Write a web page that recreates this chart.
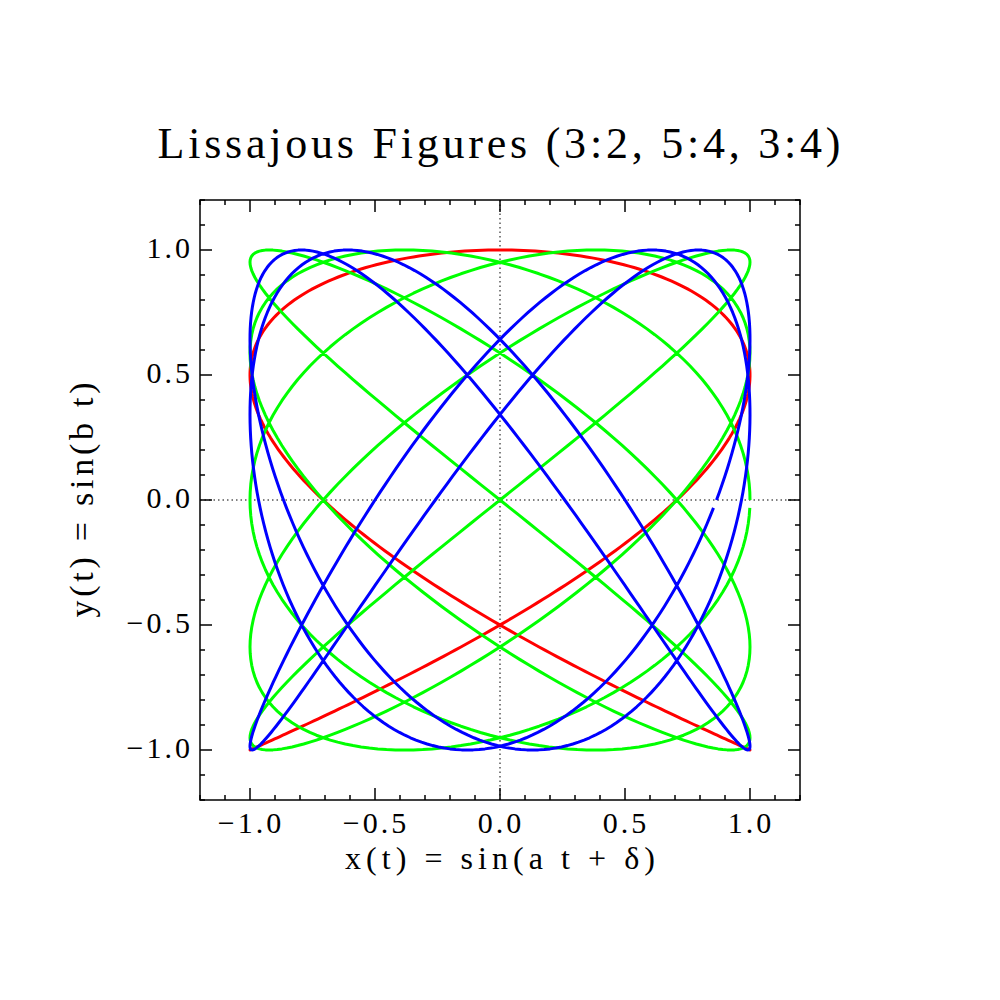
<!DOCTYPE html>
<html>
<head>
<meta charset="utf-8">
<script src="https://cdn.jsdelivr.net/npm/d3@7"></script>
<style>
	body { margin: 0; background: #fff; }
	text { font-family: "Liberation Serif", "Times New Roman", serif; font-weight: normal; fill: #000; }
</style>
</head>
<body>
<div id="chart"></div>
<script>
// parameters of the three figures
const ratioLabels = ["3:2", "5:4", "3:4"];
const freqA = [3, 5, 3];
const freqB = [2, 4, 4];
const phaseDelta = [Math.PI / 4, Math.PI / 2, Math.PI / 3];
const curveColors = ["#ff0000", "#00ff00", "#0000ff"];

const axisDomain = [-1.2, 1.2];
const majorTicks = [-1.0, -0.5, 0.0, 0.5, 1.0];
const tickLabels = ["\u22121.0", "\u22120.5", "0.0", "0.5", "1.0"];
const sampleCount = 800;

const ctx = {
	width: 1000,
	height: 1000,
	left: 200,
	top: 200,
	size: 600,
};

let svg = d3
	.select("#chart")
	.append("svg")
	.attr("width", ctx.width)
	.attr("height", ctx.height);

let x = d3
	.scaleLinear()
	.domain(axisDomain)
	.range([ctx.left, ctx.left + ctx.size]);
let y = d3
	.scaleLinear()
	.domain(axisDomain)
	.range([ctx.top + ctx.size, ctx.top]);

// title
svg.append("text")
	.attr("x", 499)
	.attr("y", 158)
	.attr("text-anchor", "middle")
	.attr("textLength", 683)
	.attr("lengthAdjust", "spacing")
	.style("font-size", "44px")
	.text("Lissajous Figures (" + ratioLabels.join(", ") + ")");

// dotted zero lines
svg.append("line")
	.attr("x1", x(0)).attr("x2", x(0))
	.attr("y1", y(axisDomain[0])).attr("y2", y(axisDomain[1]))
	.attr("stroke", "#000")
	.attr("stroke-width", 1)
	.attr("stroke-dasharray", "1.5,3");
svg.append("line")
	.attr("x1", x(axisDomain[0])).attr("x2", x(axisDomain[1]))
	.attr("y1", y(0)).attr("y2", y(0))
	.attr("stroke", "#000")
	.attr("stroke-width", 1)
	.attr("stroke-dasharray", "1.5,3");

// curves: x(t) = sin(a t + delta), y(t) = sin(b t), t in [0, 2pi)
let tValues = d3.range(sampleCount).map((i) => (i * 2 * Math.PI) / sampleCount);
let line = d3
	.line()
	.x((d) => x(d[0]))
	.y((d) => y(d[1]));

for (let k = 0; k < freqA.length; k++) {
	let pts = tValues.map((t) => [
		Math.sin(freqA[k] * t + phaseDelta[k]),
		Math.sin(freqB[k] * t),
	]);
	svg.append("path")
		.datum(pts)
		.attr("d", line)
		.attr("fill", "none")
		.attr("stroke", curveColors[k])
		.attr("stroke-width", 3)
		.attr("stroke-linejoin", "round");
}

// frame with inward ticks on all four sides
let minorTicks = x.ticks(24);
let frame = svg.append("g").attr("stroke", "#000").attr("stroke-width", 1.5);

frame.append("rect")
	.attr("x", ctx.left)
	.attr("y", ctx.top)
	.attr("width", ctx.size)
	.attr("height", ctx.size)
	.attr("fill", "none");

function tickLen(v) {
	return majorTicks.some((m) => Math.abs(m - v) < 1e-6) ? 12 : 5;
}

minorTicks.forEach((v) => {
	let len = tickLen(v);
	// bottom and top
	frame.append("line")
		.attr("x1", x(v)).attr("x2", x(v))
		.attr("y1", ctx.top + ctx.size).attr("y2", ctx.top + ctx.size - len);
	frame.append("line")
		.attr("x1", x(v)).attr("x2", x(v))
		.attr("y1", ctx.top).attr("y2", ctx.top + len);
	// left and right
	frame.append("line")
		.attr("x1", ctx.left).attr("x2", ctx.left + len)
		.attr("y1", y(v)).attr("y2", y(v));
	frame.append("line")
		.attr("x1", ctx.left + ctx.size).attr("x2", ctx.left + ctx.size - len)
		.attr("y1", y(v)).attr("y2", y(v));
});

// tick labels
svg.selectAll(".xlab")
	.data(majorTicks)
	.join("text")
	.attr("class", "xlab")
	.attr("x", (d) => x(d) + 1)
	.attr("y", 833)
	.attr("text-anchor", "middle")
	.style("font-size", "30px")
	.style("letter-spacing", "3px")
	.text((d, i) => tickLabels[i]);

svg.selectAll(".ylab")
	.data(majorTicks)
	.join("text")
	.attr("class", "ylab")
	.attr("x", 193)
	.attr("y", (d) => y(d) + 8)
	.attr("text-anchor", "end")
	.style("font-size", "30px")
	.style("letter-spacing", "3px")
	.text((d, i) => tickLabels[i]);

// axis titles
svg.append("text")
	.attr("x", 500)
	.attr("y", 869)
	.attr("text-anchor", "middle")
	.attr("textLength", 310)
	.attr("lengthAdjust", "spacing")
	.style("font-size", "32px")
	.text("x(t) = sin(a t + \u03b4)");

svg.append("text")
	.attr("transform", "translate(93,500) rotate(-90)")
	.attr("text-anchor", "middle")
	.attr("textLength", 235)
	.attr("lengthAdjust", "spacing")
	.style("font-size", "34px")
	.text("y(t) = sin(b t)");
</script>
</body>
</html>
